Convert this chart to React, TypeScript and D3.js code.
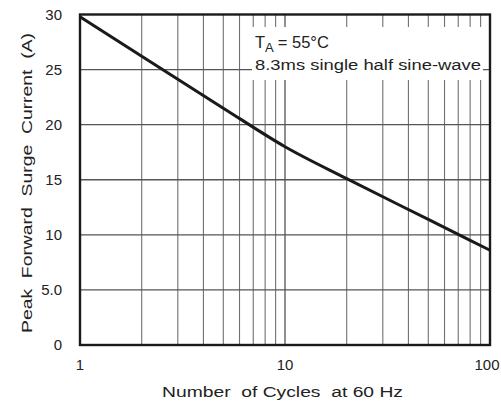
import React from "react";
import * as d3 from "d3";

const cycles = [1, 2, 5, 10, 20, 50, 100];
const current = [29.8, 26.2, 21.5, 18.0, 15.1, 11.4, 8.6];
const yTicks = [0, 5, 10, 15, 20, 25, 30];
const yTickLabels = ["0", "5.0", "10", "15", "20", "25", "30"];
const xTicks = [1, 10, 100];
const xTickLabels = ["1", "10", "100"];
const xTitle = "Number  of Cycles  at 60 Hz";
const yTitle = "Peak  Forward  Surge  Current  (A)";
const note1 = "= 55°C";
const note2 = "8.3ms single half sine-wave";

export default function App() {
  const W = 501, H = 405;
  const L = 80, R = 490, T = 14.5, B = 345;
  const x = d3.scaleLog().domain([1, 100]).range([L, R]);
  const y = d3.scaleLinear().domain([0, 30]).range([B, T]);
  const minor: number[] = [];
  for (let d = 1; d <= 10; d *= 10) for (let k = 2; k <= 10; k++) if (d * k < 100) minor.push(d * k);
  const line = d3.line<number>().x((_, i) => x(cycles[i])).y((v) => y(v)).curve(d3.curveMonotoneX);
  const font = "'Liberation Sans', Arial, sans-serif";
  return (
    <svg width={W} height={H} style={{ position: "absolute", left: 0, top: 0, background: "#fff" }} fontFamily={font}>
      {minor.map((m) => (
        <line key={"v" + m} x1={x(m)} x2={x(m)} y1={T} y2={B} stroke={m === 10 ? "#333" : "#707070"} strokeWidth={1.1} />
      ))}
      {yTicks.slice(1, -1).map((t) => (
        <line key={"h" + t} x1={L} x2={R} y1={y(t)} y2={y(t)} stroke="#555" strokeWidth={1.3} />
      ))}
      <rect x={252} y={27} width={231} height={53} fill="#fff" />
      <path d={line(current) || ""} fill="none" stroke="#1a1a1a" strokeWidth={3} />
      <rect x={L} y={T} width={R - L} height={B - T} fill="none" stroke="#1a1a1a" strokeWidth={2.4} />
      <text x={255} y={48} fontSize={16.5} fill="#222">
        <tspan>T</tspan>
        <tspan fontSize={13} dy={4}>A</tspan>
        <tspan dy={-4} dx={4}>{note1}</tspan>
      </text>
      <text x={255} y={70} fontSize={15.5} fill="#222" textLength={226} lengthAdjust="spacingAndGlyphs">{note2}</text>
      {yTicks.map((t, i) => (
        <text key={"yl" + t} x={62} y={y(t)} dy="0.35em" textAnchor="end" fontSize={15} fill="#222">{yTickLabels[i]}</text>
      ))}
      {xTicks.map((t, i) => (
        <text key={"xl" + t} x={x(t) + (i === 2 ? -3 : 0)} y={365} dy="0.35em" textAnchor="middle" fontSize={15} fill="#222">{xTickLabels[i]}</text>
      ))}
      <text x={162} y={397} fontSize={15.5} fill="#222" textLength={241} lengthAdjust="spacingAndGlyphs" style={{ whiteSpace: "pre" }}>{xTitle}</text>
      <text transform={`translate(32,333) rotate(-90)`} fontSize={15.5} fill="#222" textLength={300} lengthAdjust="spacingAndGlyphs" style={{ whiteSpace: "pre" }}>{yTitle}</text>
    </svg>
  );
}
